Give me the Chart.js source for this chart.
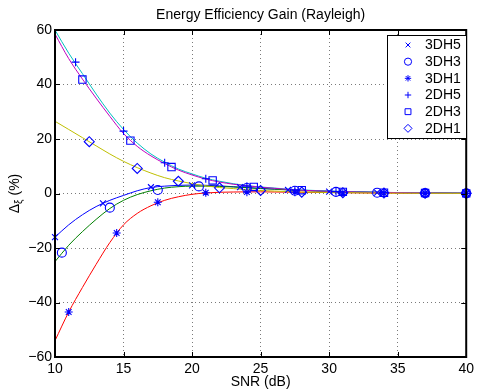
<!DOCTYPE html>
<html>
<head>
<meta charset="utf-8">
<script src="https://cdn.jsdelivr.net/npm/chart.js@4.4.1/dist/chart.umd.min.js"></script>
<style>
  html, body { margin: 0; padding: 0; background: #fff; }
  #wrap { width: 478px; height: 391px; }
</style>
</head>
<body>
<div id="wrap"><canvas id="gainChart" width="478" height="391"></canvas></div>
<script>
// SNR points of the fitted curves (dB)
const snr = [10, 11, 12, 13, 14, 15, 16, 17, 18, 19, 20, 21, 22, 23, 24, 25,
             26, 27, 28, 29, 30, 31, 32, 33, 34, 35, 36, 37, 38, 39, 40];

// fitted curves, gain in %
const fit3DH5 = [-16, -11.5, -7.8, -4.8, -2.5, -0.7, 1.0, 2.2, 2.7, 3.0, 3.1, 3.0, 2.8, 2.5, 2.2, 1.9,
                 1.6, 1.4, 1.2, 1.0, 0.8, 0.7, 0.6, 0.5, 0.4, 0.35, 0.3, 0.25, 0.2, 0.15, 0.1];
const fit3DH3 = [-25, -19, -14, -9.5, -5.5, -2.5, -0.4, 1.0, 2.0, 2.5, 2.7, 2.7, 2.6, 2.4, 2.1, 1.8,
                 1.6, 1.3, 1.1, 0.9, 0.8, 0.65, 0.55, 0.45, 0.4, 0.3, 0.25, 0.2, 0.15, 0.12, 0.1];
const fit3DH1 = [-54, -43.5, -34.5, -26, -18, -11.5, -7.3, -4.5, -2.5, -1.2, -0.3, 0.2, 0.45, 0.55, 0.6, 0.6,
                 0.55, 0.5, 0.45, 0.4, 0.35, 0.3, 0.25, 0.2, 0.18, 0.15, 0.12, 0.1, 0.08, 0.06, 0.05];
const fit2DH5 = [60, 51.5, 44, 36.5, 29.5, 23.5, 18.5, 14.5, 11.5, 9, 7.2, 5.6, 4.5, 3.6, 2.9, 2.4,
                 2.0, 1.6, 1.3, 1.1, 0.9, 0.75, 0.6, 0.5, 0.4, 0.35, 0.3, 0.25, 0.2, 0.15, 0.1];
const fit2DH3 = [58.5, 49.5, 42, 35, 28.3, 22, 17.3, 13.8, 11, 8.6, 6.8, 5.3, 4.2, 3.4, 2.8, 2.3,
                 1.9, 1.5, 1.2, 1.0, 0.8, 0.7, 0.55, 0.45, 0.4, 0.3, 0.25, 0.2, 0.15, 0.12, 0.1];
const fit2DH1 = [26.5, 23.5, 20.5, 17.5, 14.5, 11.8, 9.5, 7.5, 5.8, 4.6, 3.6, 2.8, 2.2, 1.8, 1.4, 1.1,
                 0.9, 0.7, 0.55, 0.45, 0.35, 0.3, 0.25, 0.2, 0.15, 0.12, 0.1, 0.08, 0.07, 0.06, 0.05];

// simulated points (blue markers)
const pts3DH5x = [10, 13.5, 17, 20, 23.5, 27, 30, 33.5, 37, 40];
const pts3DH5y = [-16, -3.6, 2.3, 3.0, 2.3, 1.3, 0.7, 0.35, 0.15, 0.05];
const pts3DH3x = [10.5, 14, 17.5, 20.5, 24, 27.5, 30.5, 33.5, 37, 40];
const pts3DH3y = [-21.7, -5.2, 1.3, 2.6, 2.0, 1.0, 0.6, 0.3, 0.15, 0.05];
const pts3DH1x = [11, 14.5, 17.5, 21, 24, 27.5, 31, 34, 37, 40];
const pts3DH1y = [-43.5, -14.5, -3.2, 0.3, 0.5, 0.5, 0.3, 0.2, 0.1, 0.05];
const pts2DH5x = [11.5, 15, 18, 21, 24, 27.5, 30.5, 34, 37, 40];
const pts2DH5y = [48.2, 22.9, 11.3, 5.4, 2.7, 1.3, 0.7, 0.35, 0.15, 0.05];
const pts2DH3x = [12, 15.5, 18.5, 21.5, 24.5, 28, 31, 34, 37, 40];
const pts2DH3y = [41.8, 19.4, 9.7, 4.8, 2.4, 1.2, 0.6, 0.3, 0.15, 0.05];
const pts2DH1x = [12.5, 16, 19, 22, 25, 28, 31, 34, 37, 40];
const pts2DH1y = [19, 9.2, 4.5, 2.1, 1.1, 0.5, 0.3, 0.15, 0.1, 0.05];

const packetNames = ['3DH5', '3DH3', '3DH1', '2DH5', '2DH3', '2DH1'];
const xTicks = [10, 15, 20, 25, 30, 35, 40];
const yTicks = [-60, -40, -20, 0, 20, 40, 60];

const FONT = '"Liberation Sans", Arial, sans-serif';

const fits = [fit3DH5, fit3DH3, fit3DH1, fit2DH5, fit2DH3, fit2DH1];
const fitColors = ['#0000ff', '#008000', '#ff0000', '#00bfbf', '#bf00bf', '#bfbf00'];
const ptsX = [pts3DH5x, pts3DH3x, pts3DH1x, pts2DH5x, pts2DH3x, pts2DH1x];
const ptsY = [pts3DH5y, pts3DH3y, pts3DH1y, pts2DH5y, pts2DH3y, pts2DH1y];
const markerStyle = ['crossRot', 'circle', 'star', 'cross', 'rect', 'rectRot'];
const markerSize = [4.2, 4.5, 4, 4, 5.2, 5];

const datasets = [];

// markers first (order 0 = drawn on top)
packetNames.forEach((name, i) => {
  datasets.push({
    label: name,
    data: ptsX[i].map((v, k) => ({ x: v, y: ptsY[i][k] })),
    showLine: false,
    pointStyle: markerStyle[i],
    pointRadius: markerSize[i],
    pointBorderWidth: 1.1,
    borderColor: '#0000ff',
    backgroundColor: 'rgba(0,0,0,0)',
    clip: false,
    order: 0
  });
});

fits.forEach((f, i) => {
  datasets.push({
    label: packetNames[i] + ' fit',
    data: snr.map((v, k) => ({ x: v, y: f[k] })),
    showLine: true,
    borderColor: fitColors[i],
    borderWidth: 1,
    pointRadius: 0,
    cubicInterpolationMode: 'monotone',
    clip: false,
    order: 6 - i + 1
  });
});

// MATLAB-ish frame, inward ticks, labels and legend
const matlabAxes = {
  id: 'matlabAxes',
  afterDraw(chart) {
    const { ctx, chartArea: a, scales: { x, y } } = chart;
    ctx.save();

    ctx.strokeStyle = '#000';
    ctx.lineWidth = 1;
    ctx.beginPath();
    x.ticks.forEach(t => {
      const px = Math.round(x.getPixelForValue(t.value)) + 0.5;
      ctx.moveTo(px, a.bottom); ctx.lineTo(px, a.bottom - 5);
      ctx.moveTo(px, a.top); ctx.lineTo(px, a.top + 5);
    });
    y.ticks.forEach(t => {
      const py = Math.round(y.getPixelForValue(t.value)) + 0.5;
      ctx.moveTo(a.left, py); ctx.lineTo(a.left + 5, py);
      ctx.moveTo(a.right, py); ctx.lineTo(a.right - 5, py);
    });
    ctx.stroke();

    ctx.lineWidth = 2;
    ctx.strokeRect(a.left, a.top, a.right - a.left, a.bottom - a.top);

    // title + x label
    ctx.fillStyle = '#000';
    ctx.textAlign = 'center';
    ctx.textBaseline = 'middle';
    ctx.font = '14px ' + FONT;
    const cx = (a.left + a.right) / 2;
    ctx.fillText('Energy Efficiency Gain (Rayleigh)', cx, 15);
    ctx.fillText('SNR (dB)', cx, 382);

    // y label: Δ with subscript ξ
    ctx.save();
    ctx.translate(15, (a.top + a.bottom) / 2);
    ctx.rotate(-Math.PI / 2);
    ctx.textAlign = 'left';
    ctx.font = '14px ' + FONT;
    const wD = ctx.measureText('\u0394').width;
    const wP = ctx.measureText(' (%)').width;
    ctx.font = '10px ' + FONT;
    const wX = ctx.measureText('\u03BE').width;
    let sx = -(wD + wX + wP) / 2;
    ctx.font = '14px ' + FONT;
    ctx.fillText('\u0394', sx, 0);
    ctx.font = '10px ' + FONT;
    ctx.fillText('\u03BE', sx + wD, 4);
    ctx.font = '14px ' + FONT;
    ctx.fillText(' (%)', sx + wD + wX, 0);
    ctx.restore();

    // legend box
    const lx = 387.5, ly = 35.5, lw = 79, lh = 103;
    ctx.fillStyle = '#fff';
    ctx.fillRect(lx, ly, lw, lh);
    ctx.lineWidth = 1;
    ctx.strokeStyle = '#000';
    ctx.strokeRect(lx, ly, lw, lh);

    ctx.font = '14px ' + FONT;
    ctx.textAlign = 'left';
    ctx.textBaseline = 'middle';
    packetNames.forEach((name, i) => {
      const ry = 45 + i * 16.67;
      ctx.strokeStyle = '#0000ff';
      ctx.fillStyle = 'rgba(0,0,0,0)';
      ctx.lineWidth = 1;
      Chart.helpers.drawPoint(ctx, {
        pointStyle: markerStyle[i],
        radius: markerSize[i] * 0.8,
        rotation: 0,
        borderWidth: 1
      }, 408, ry);
      ctx.fillStyle = '#000';
      ctx.fillText(name, 425, ry + 0.5);
    });

    ctx.restore();
  }
};

new Chart(document.getElementById('gainChart'), {
  type: 'scatter',
  data: { datasets },
  options: {
    responsive: false,
    animation: false,
    events: [],
    layout: { padding: { top: 30, right: 9, bottom: 0, left: 0 } },
    plugins: {
      legend: { display: false },
      title: { display: false },
      tooltip: { enabled: false }
    },
    scales: {
      x: {
        type: 'linear',
        min: 10,
        max: 40,
        afterBuildTicks: s => { s.ticks = xTicks.map(v => ({ value: v })); },
        afterFit: s => { s.height = 34; },
        grid: { color: '#7a7a7a', lineWidth: 1, drawTicks: false },
        border: { display: false, dash: [1, 3] },
        ticks: {
          color: '#000',
          font: { family: FONT, size: 14 },
          padding: 4,
          maxRotation: 0,
          autoSkip: false
        }
      },
      y: {
        type: 'linear',
        min: -60,
        max: 60,
        afterBuildTicks: s => { s.ticks = yTicks.map(v => ({ value: v })); },
        afterFit: s => { s.width = 55; },
        grid: { color: '#7a7a7a', lineWidth: 1, drawTicks: false },
        border: { display: false, dash: [1, 3] },
        ticks: {
          color: '#000',
          font: { family: FONT, size: 14 },
          padding: 3,
          autoSkip: false,
          callback: v => String(v).replace('-', '\u2212')
        }
      }
    }
  },
  plugins: [matlabAxes]
});
</script>
</body>
</html>
